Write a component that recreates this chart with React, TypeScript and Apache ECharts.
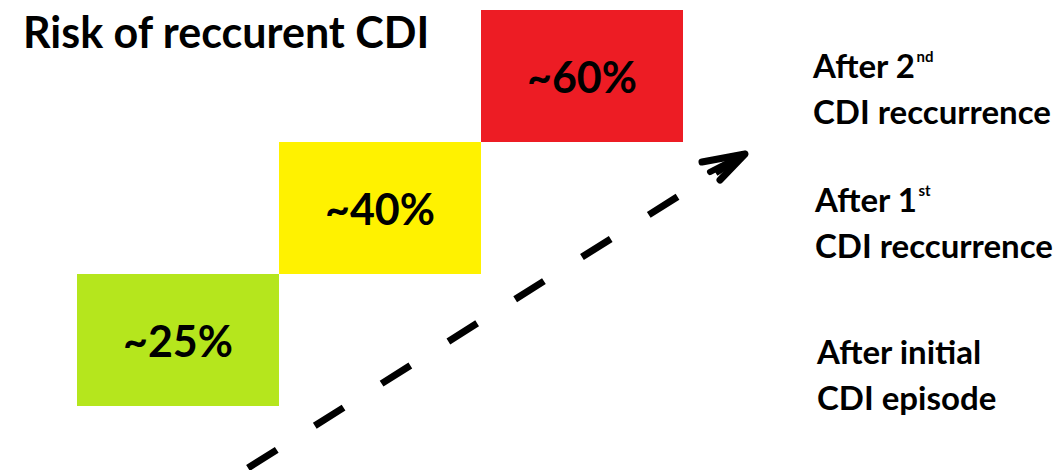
import React, { useEffect, useRef } from "react";
import * as echarts from "echarts";

const stages = ["After initial CDI episode", "After 1st CDI reccurrence", "After 2nd CDI reccurrence"];
const stepBase = [0, 1, 2];
const stepHeight = [1, 1, 1];
const riskPercent = [25, 40, 60];
const boxColors = ["#B5E61D", "#FFF200", "#ED1C24"];
const titleText = "Risk of reccurent CDI";

const FONT = "Lato";

export default function App() {
  const ref = useRef<HTMLDivElement>(null);
  useEffect(() => {
    if (!ref.current) return;
    const chart = echarts.init(ref.current, null, { renderer: "svg" });
    const labelText = (main: string, sup: string) =>
      sup ? `{a|${main}}{s|${sup}}` : `{a|${main}}`;
    const rich = {
      a: { fontFamily: FONT, fontWeight: "bold", fontSize: 33, color: "#000" },
      s: { fontFamily: FONT, fontWeight: "bold", fontSize: 15, color: "#000", verticalAlign: "top", padding: [6, 0, 0, 1] },
    };
    chart.setOption({
      animation: false,
      backgroundColor: "#fff",
      title: {
        text: titleText,
        left: 18,
        top: 5,
        textStyle: { fontFamily: FONT, fontWeight: "bold", fontSize: 43, color: "#000" },
      },
      grid: { left: 77, right: 375, top: 10, bottom: 64 },
      xAxis: { type: "category", data: stages, show: false },
      yAxis: { type: "value", min: 0, max: 3, show: false },
      series: [
        {
          type: "bar",
          stack: "steps",
          data: stepBase,
          barWidth: "100%",
          itemStyle: { color: "transparent" },
          silent: true,
        },
        {
          type: "bar",
          stack: "steps",
          barWidth: "100%",
          data: stepHeight.map((h, i) => ({ value: h, itemStyle: { color: boxColors[i] } })),
          label: {
            show: true,
            position: "inside",
            formatter: (p: any) => `~${riskPercent[p.dataIndex]}%`,
            fontFamily: FONT,
            fontWeight: "bold",
            fontSize: 43,
            color: "#000",
          },
        },
      ],
      graphic: [
        {
          type: "line",
          shape: { x1: 248, y1: 468, x2: 742, y2: 156 },
          style: { stroke: "#000", lineWidth: 7, lineDash: [34, 45] },
        },
        {
          type: "polyline",
          shape: { points: [[702, 162], [745, 154], [720, 180]] },
          style: { stroke: "#000", lineWidth: 7, fill: "none", lineCap: "round", lineJoin: "round" },
        },
        {
          type: "line",
          shape: { x1: 745, y1: 154, x2: 710, y2: 172 },
          style: { stroke: "#000", lineWidth: 6, lineCap: "round" },
        },
        {
          type: "text",
          x: 813,
          y: 88,
          style: {
            text: labelText("After 2", "nd") + "\n" + labelText("CDI reccurrence", ""),
            rich,
            lineHeight: 46,
            verticalAlign: "middle",
          },
        },
        {
          type: "text",
          x: 815,
          y: 222,
          style: {
            text: labelText("After 1", "st") + "\n" + labelText("CDI reccurrence", ""),
            rich,
            lineHeight: 46,
            verticalAlign: "middle",
          },
        },
        {
          type: "text",
          x: 817,
          y: 374,
          style: {
            text: labelText("After initial", "") + "\n" + labelText("CDI episode", ""),
            rich,
            lineHeight: 46,
            verticalAlign: "middle",
          },
        },
      ],
    });
    return () => chart.dispose();
  }, []);
  return (
    <div
      ref={ref}
      style={{ position: "fixed", left: 0, top: 0, width: 1058, height: 470, background: "#fff" }}
    />
  );
}
